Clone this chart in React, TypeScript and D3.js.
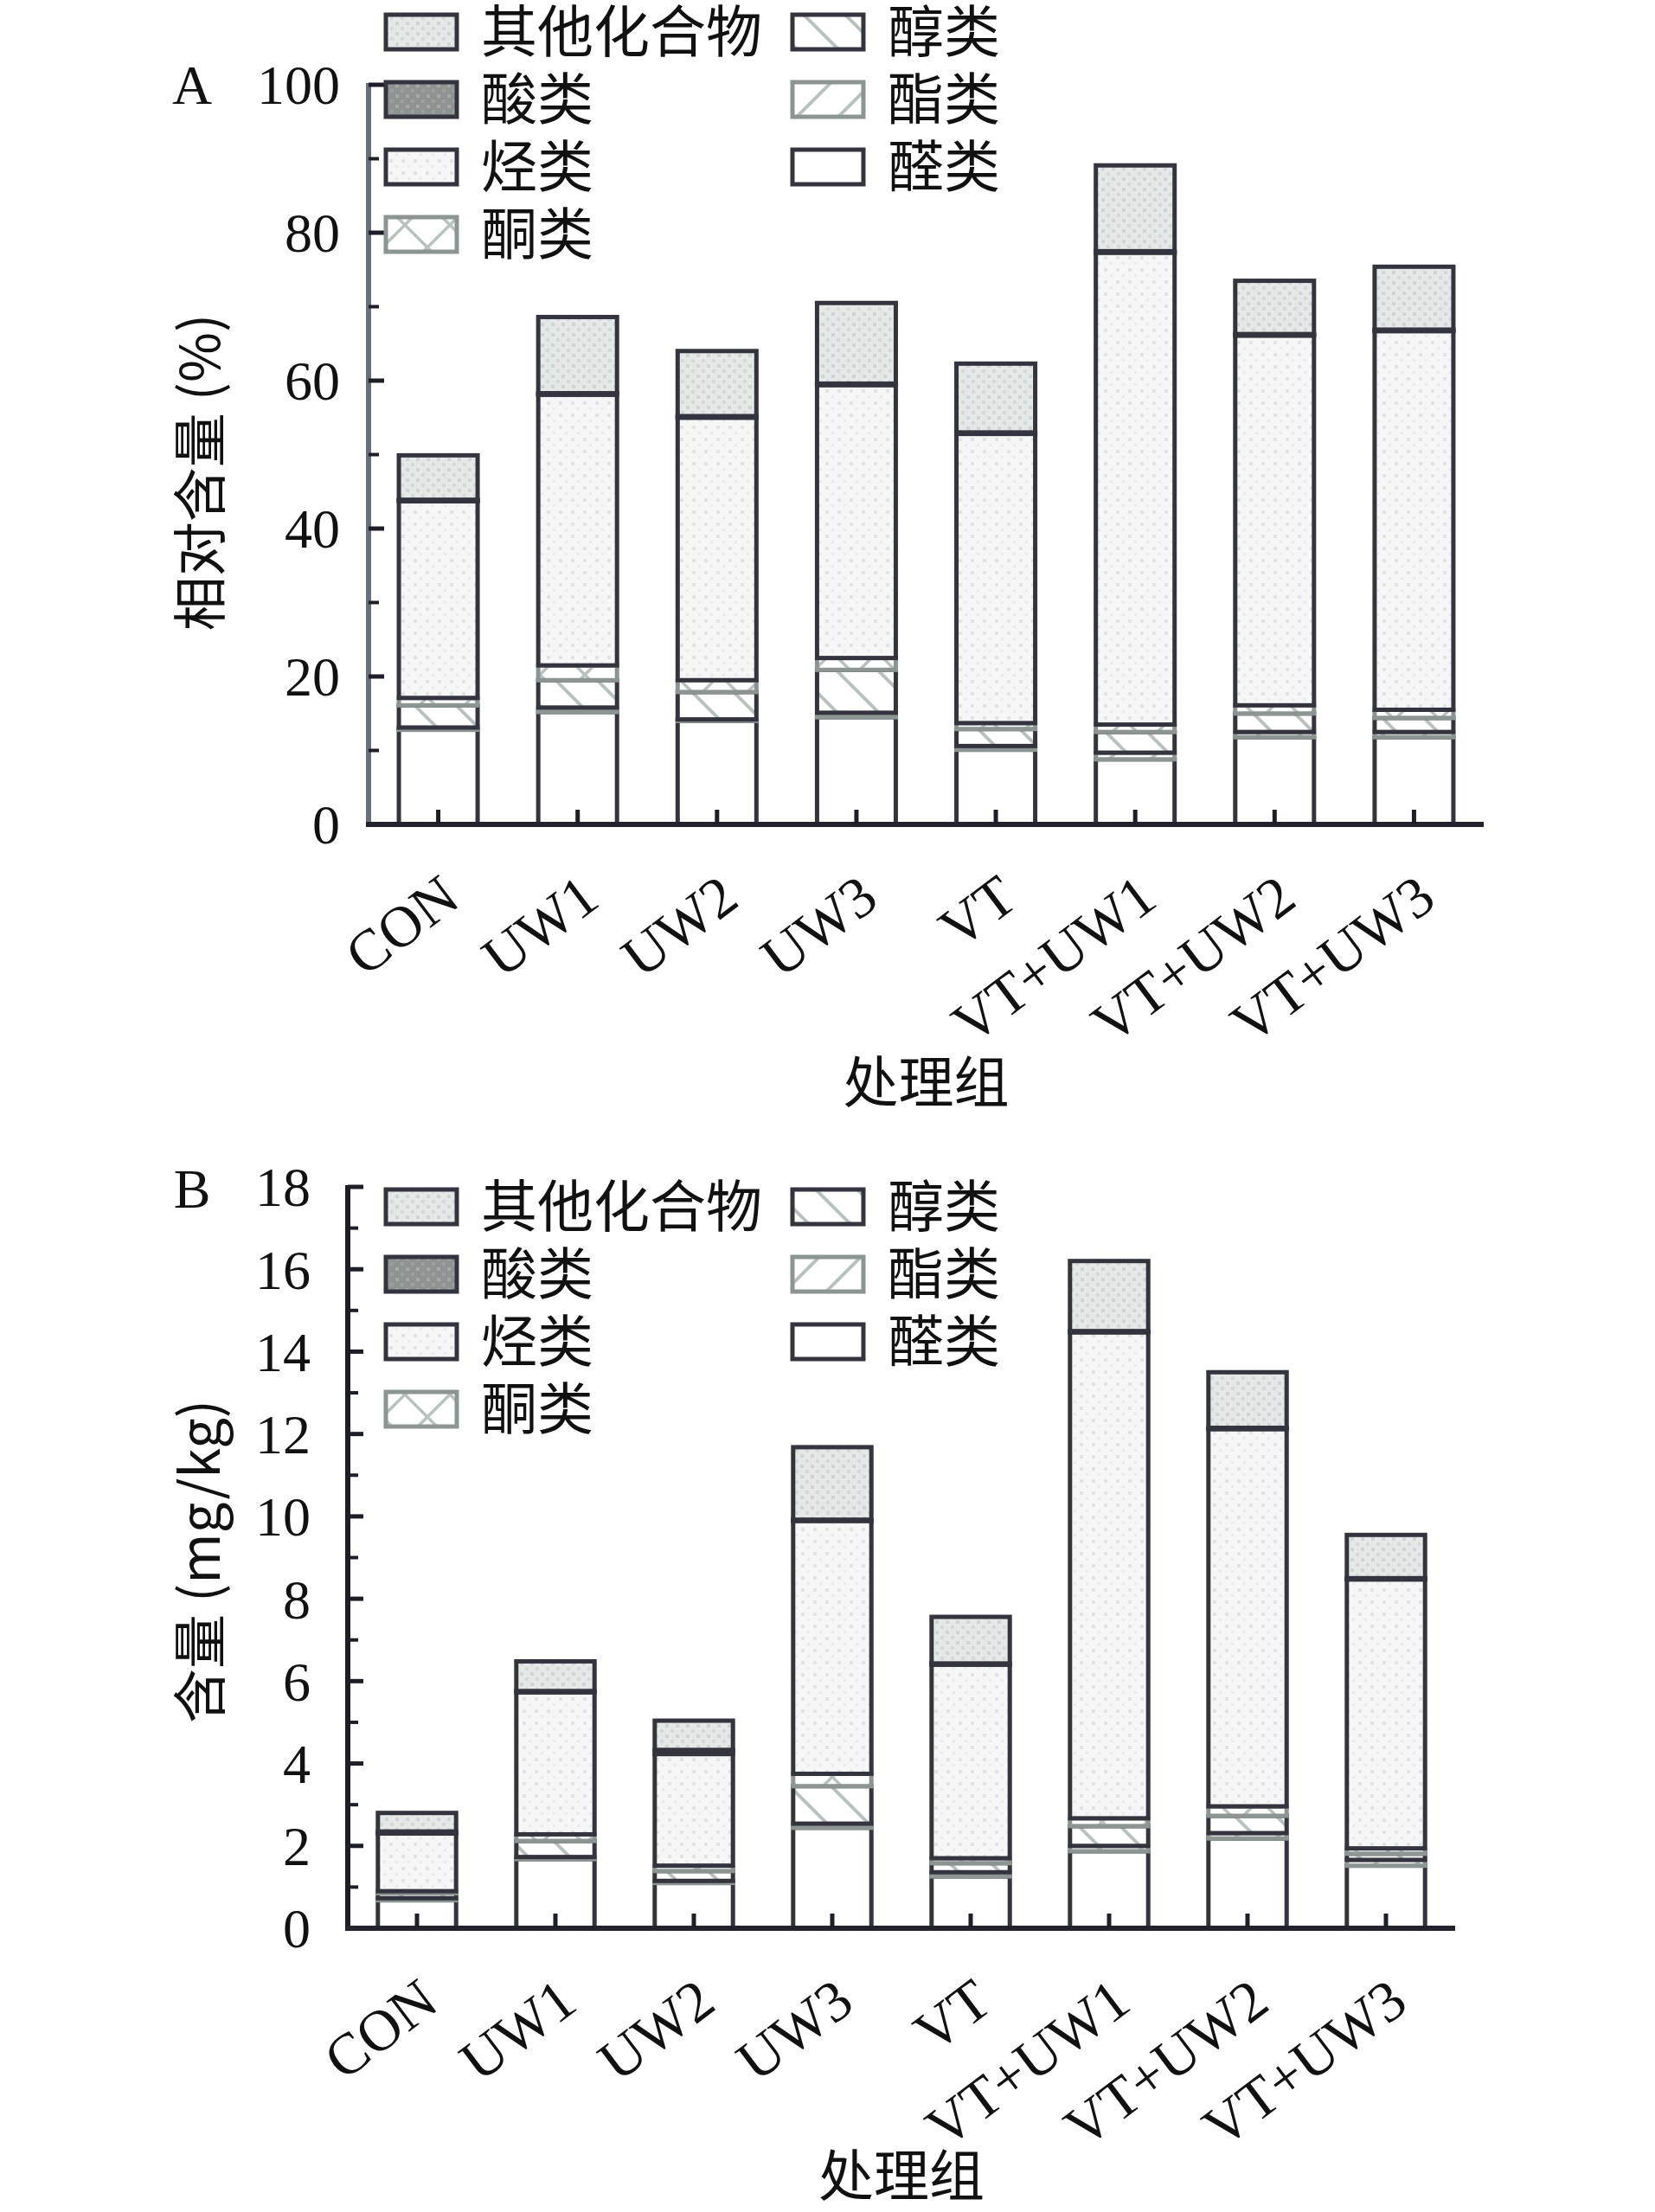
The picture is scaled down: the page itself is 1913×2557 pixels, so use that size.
import React from "react";
import * as d3 from "d3";

const categories = ["CON", "UW1", "UW2", "UW3", "VT", "VT+UW1", "VT+UW2", "VT+UW3"];
// stacking order bottom -> top
const seriesKeys = ["醛类", "酯类", "醇类", "酮类", "烃类", "酸类", "其他化合物"];

// Panel A: relative content (%)
const aAldehyde = [12.8, 15.2, 14.0, 14.5, 10.1, 8.8, 11.8, 11.8];
const aEster = [0.3, 0.6, 0.2, 0.6, 0.5, 0.9, 0.7, 0.7];
const aAlcohol = [3.0, 3.7, 3.7, 5.8, 2.3, 2.8, 2.5, 1.9];
const aKetone = [1.0, 2.0, 1.6, 1.6, 0.8, 1.0, 1.1, 1.1];
const aHydrocarbon = [26.6, 36.6, 35.5, 36.9, 39.1, 63.8, 50.0, 51.2];
const aAcid = [0.2, 0.2, 0.2, 0.2, 0.2, 0.2, 0.2, 0.2];
const aOther = [6.0, 10.3, 8.8, 10.9, 9.3, 11.6, 7.2, 8.5];

// Panel B: content (mg/kg)
const bAldehyde = [0.68, 1.68, 1.1, 2.44, 1.26, 1.87, 2.18, 1.52];
const bEster = [0.05, 0.05, 0.05, 0.1, 0.1, 0.13, 0.13, 0.14];
const bAlcohol = [0.12, 0.39, 0.24, 0.91, 0.22, 0.48, 0.42, 0.15];
const bKetone = [0.05, 0.16, 0.13, 0.3, 0.12, 0.19, 0.23, 0.13];
const bHydrocarbon = [1.4, 3.45, 2.71, 6.14, 4.7, 11.8, 9.16, 6.53];
const bAcid = [0.05, 0.03, 0.1, 0.03, 0.03, 0.03, 0.03, 0.03];
const bOther = [0.45, 0.72, 0.71, 1.76, 1.13, 1.7, 1.35, 1.05];

const aTicks = [0, 20, 40, 60, 80, 100];
const bTicks = [0, 2, 4, 6, 8, 10, 12, 14, 16, 18];

const legendLeft = ["其他化合物", "酸类", "烃类", "酮类"];
const legendRight = ["醇类", "酯类", "醛类"];

const DARK = "#34343f";
const GREY = "#8d9593";
const SERIF = "'Liberation Serif', 'Times New Roman', 'Noto Sans CJK SC', serif";
const CJK = "'Noto Sans CJK SC', 'Liberation Serif', serif";

const style: Record<string, { fill: string; stroke: string }> = {
  醛类: { fill: "#ffffff", stroke: DARK },
  酯类: { fill: "url(#pEster)", stroke: GREY },
  醇类: { fill: "url(#pAlcohol)", stroke: DARK },
  酮类: { fill: "url(#pKetone)", stroke: GREY },
  烃类: { fill: "url(#pHydro)", stroke: DARK },
  酸类: { fill: "url(#pAcid)", stroke: DARK },
  其他化合物: { fill: "url(#pOther)", stroke: DARK },
};

function buildRows(arrs: number[][]) {
  return categories.map((c, i) => {
    const r: Record<string, any> = { cat: c };
    seriesKeys.forEach((k, j) => (r[k] = arrs[j][i]));
    return r;
  });
}

const rowsA = buildRows([aAldehyde, aEster, aAlcohol, aKetone, aHydrocarbon, aAcid, aOther]);
const rowsB = buildRows([bAldehyde, bEster, bAlcohol, bKetone, bHydrocarbon, bAcid, bOther]);

type PanelProps = {
  rows: Record<string, any>[];
  x0: number;
  x1: number;
  yTop: number;
  yBottom: number;
  yMax: number;
  ticks: number[];
  minorStep: number;
  yAxisColor: string;
  labelRight: number;
  panelLabel: string;
  panelLabelY: number;
  yTitle: string;
  yTitleY: number;
  legendY0: number;
  titleY: number;
};

function Panel(p: PanelProps) {
  const x = d3
    .scaleBand<string>()
    .domain(categories)
    .range([p.x0, p.x1])
    .paddingInner(0.435)
    .paddingOuter(0.2175);
  const y = d3.scaleLinear().domain([0, p.yMax]).range([p.yBottom, p.yTop]);
  const stacked = d3.stack<any>().keys(seriesKeys)(p.rows);
  const minors = d3.range(0, p.yMax + 1e-9, p.minorStep).filter((v) => !p.ticks.includes(+v.toFixed(6)));
  const bw = x.bandwidth();

  const legendItem = (name: string, bx: number, cy: number) => (
    <g key={name}>
      <rect x={bx} y={cy - 20} width={82} height={40} fill={style[name].fill} stroke={style[name].stroke} strokeWidth={5} />
      <text x={bx + 110} y={cy} dy="0.36em" fontFamily={CJK} fontSize={65} fill="#111">
        {name}
      </text>
    </g>
  );

  return (
    <g>
      {/* bars */}
      {stacked.map((s) => (
        <g key={s.key}>
          {s.map((d, i) => (
            <rect
              key={i}
              x={x(categories[i])!}
              y={y(d[1])}
              width={bw}
              height={Math.max(0, y(d[0]) - y(d[1]))}
              fill={style[s.key].fill}
              stroke={style[s.key].stroke}
              strokeWidth={5}
            />
          ))}
        </g>
      ))}
      {/* y axis */}
      <line x1={p.x0} x2={p.x0} y1={y(p.yMax) - 2} y2={p.yBottom + 3} stroke={p.yAxisColor} strokeWidth={6} />
      {p.ticks.map((t) => (
        <g key={t}>
          <line x1={p.x0} x2={p.x0 + 18} y1={y(t)} y2={y(t)} stroke="#1e1e28" strokeWidth={5} />
          <text x={p.labelRight} y={y(t)} dy="0.35em" textAnchor="end" fontFamily={SERIF} fontSize={64} fill="#111">
            {t}
          </text>
        </g>
      ))}
      {minors.map((t) => (
        <line key={"m" + t} x1={p.x0} x2={p.x0 + 12} y1={y(t)} y2={y(t)} stroke="#1e1e28" strokeWidth={4} />
      ))}
      {/* x axis */}
      <line x1={p.x0 - 3} x2={p.x1} y1={p.yBottom} y2={p.yBottom} stroke="#23232e" strokeWidth={6} />
      {categories.map((c) => {
        const cx = x(c)! + bw / 2;
        return (
          <g key={c}>
            <line x1={cx} x2={cx} y1={p.yBottom} y2={p.yBottom - 17} stroke="#1e1e28" strokeWidth={5} />
            <text
              transform={`translate(${cx + 28},${p.yBottom + 92}) rotate(-37)`}
              textAnchor="end"
              fontFamily={SERIF}
              fontSize={67}
              fill="#111"
            >
              {c}
            </text>
          </g>
        );
      })}
      {/* titles */}
      <text x={(p.x0 + p.x1) / 2} y={p.titleY} dy="0.35em" textAnchor="middle" fontFamily={CJK} fontSize={64} fill="#111">
        处理组
      </text>
      <text
        transform={`translate(232,${p.yTitleY}) rotate(-90)`}
        textAnchor="middle"
        dy="0.35em"
        fontFamily={CJK}
        fontSize={63}
        fill="#111"
      >
        {p.yTitle}
      </text>
      <text x={222} y={p.panelLabelY} dy="0.35em" textAnchor="middle" fontFamily={SERIF} fontSize={64} fill="#111">
        {p.panelLabel}
      </text>
      {/* legend */}
      {legendLeft.map((n, i) => legendItem(n, 446, p.legendY0 + i * 78))}
      {legendRight.map((n, i) => legendItem(n, 916, p.legendY0 + i * 78))}
    </g>
  );
}

export default function App() {
  return (
    <svg
      width={1913}
      height={2557}
      viewBox="0 0 1913 2557"
      style={{ position: "absolute", left: 0, top: 0, background: "#fff" }}
    >
      <defs>
        <pattern id="pOther" patternUnits="userSpaceOnUse" width="12" height="12">
          <rect width="12" height="12" fill="#e4e8e6" />
          <rect x="1" y="1" width="4" height="4" fill="#d0d6d4" />
          <rect x="7" y="7" width="4" height="4" fill="#d6dbd9" />
        </pattern>
        <pattern id="pAcid" patternUnits="userSpaceOnUse" width="12" height="12">
          <rect width="12" height="12" fill="#8e9492" />
          <rect x="1" y="1" width="4" height="4" fill="#a2a8a6" />
          <rect x="7" y="7" width="4" height="4" fill="#9aa09e" />
        </pattern>
        <pattern id="pHydro" patternUnits="userSpaceOnUse" width="14" height="14">
          <rect width="14" height="14" fill="#f5f6f5" />
          <rect x="2" y="2" width="4" height="4" fill="#e0e4e2" />
          <rect x="9" y="9" width="3" height="3" fill="#e8ebea" />
        </pattern>
        <pattern id="pAlcohol" patternUnits="userSpaceOnUse" width="48" height="48">
          <rect width="48" height="48" fill="#fff" />
          <path d="M-6,-6 L54,54 M-6,42 L6,54 M42,-6 L54,6" stroke="#b8c2bf" strokeWidth="4" />
        </pattern>
        <pattern id="pEster" patternUnits="userSpaceOnUse" width="48" height="48">
          <rect width="48" height="48" fill="#fff" />
          <path d="M-6,54 L54,-6 M-6,6 L6,-6 M42,54 L54,42" stroke="#b8c2bf" strokeWidth="4" />
        </pattern>
        <pattern id="pKetone" patternUnits="userSpaceOnUse" width="52" height="52">
          <rect width="52" height="52" fill="#fff" />
          <path d="M-6,-6 L58,58 M-6,58 L58,-6" stroke="#b8c2bf" strokeWidth="3.5" />
        </pattern>
      </defs>
      <rect width={1913} height={2557} fill="#fff" />
      <Panel
        rows={rowsA}
        x0={426}
        x1={1715}
        yTop={98}
        yBottom={953}
        yMax={100}
        ticks={aTicks}
        minorStep={10}
        yAxisColor="#6a6f7e"
        labelRight={393}
        panelLabel="A"
        panelLabelY={98}
        yTitle="相对含量 (%)"
        yTitleY={546}
        legendY0={37}
        titleY={1252}
      />
      <Panel
        rows={rowsB}
        x0={402}
        x1={1682}
        yTop={1372}
        yBottom={2229}
        yMax={18}
        ticks={bTicks}
        minorStep={1}
        yAxisColor="#1e1e28"
        labelRight={359}
        panelLabel="B"
        panelLabelY={1374}
        yTitle="含量 (mg/kg)"
        yTitleY={1805}
        legendY0={1395}
        titleY={2516}
      />
    </svg>
  );
}
